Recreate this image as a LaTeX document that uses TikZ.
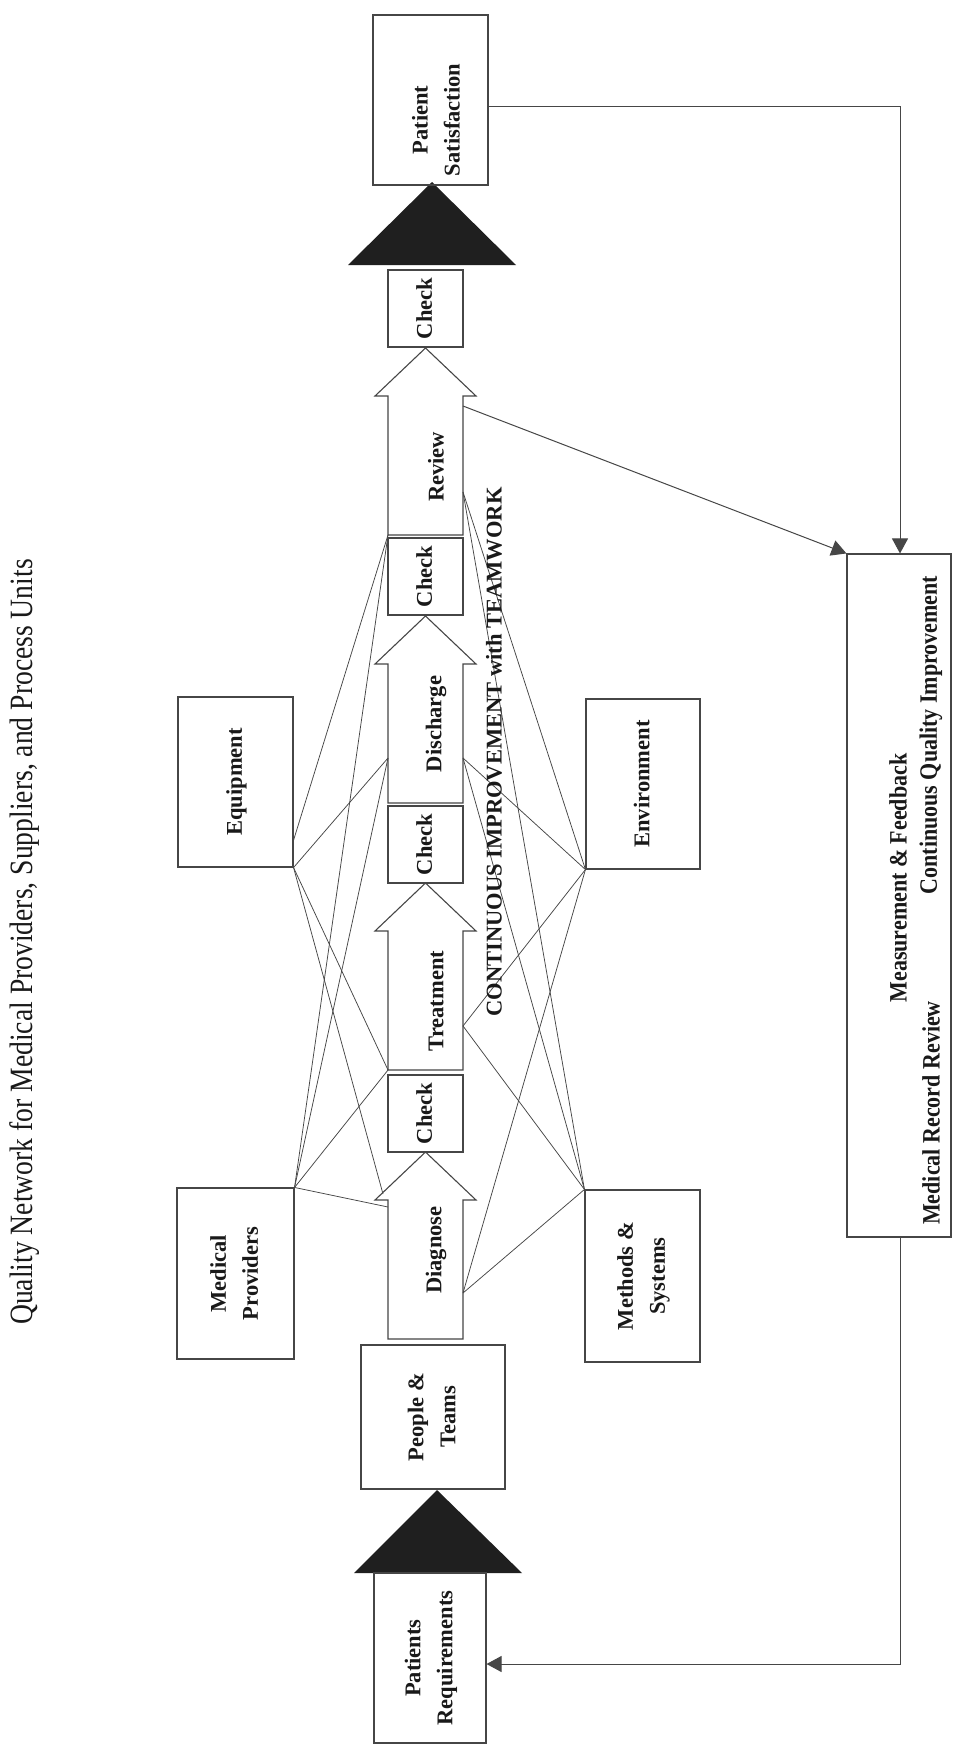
\documentclass[tikz,border=0pt]{standalone}
\usepackage{fontspec}
\setmainfont{Liberation Serif}
\newfontfamily\condfont[FakeStretch=0.85]{Liberation Serif}
\newfontfamily\condbfont[FakeStretch=0.88]{Liberation Serif}
\usepackage{graphicx}
\usetikzlibrary{arrows.meta}
\definecolor{linec}{RGB}{70,70,70}
\definecolor{txt}{RGB}{25,25,25}
\newcommand{\rtxt}[1]{\rotatebox{90}{\begin{tabular}{@{}c@{}}#1\end{tabular}}}
\newcommand{\procarrow}[1]{%
  \draw[parrow] (425.5,#1) -- (476,#1+48) -- (463,#1+48) -- (463,#1+187) -- (388,#1+187) -- (388,#1+48) -- (375,#1+48) -- cycle;}
\begin{document}
\begin{tikzpicture}[x=1pt,y=-1pt,
  box/.style={draw=linec, line width=1.1pt, inner sep=0pt, text=txt, font=\bfseries\fontsize{22.5}{32}\selectfont},
  lbl/.style={rotate=90, inner sep=0pt, text=txt, font=\bfseries\fontsize{22.5}{27}\selectfont},
  mlbl/.style={rotate=90, inner sep=0pt, text=txt, font=\condbfont\bfseries\fontsize{25}{28}\selectfont},
  net/.style={draw=linec, line width=0.75pt},
  conn/.style={draw=linec, line width=1pt},
  tip/.style={-{Triangle[width=16pt,length=15pt]}},
  parrow/.style={draw=linec, line width=1.1pt, fill=white},
]
\useasboundingbox (0,0) rectangle (965,1750);
\fill[white] (0,0) rectangle (965,1750);

% title
\node[rotate=90, inner sep=0pt, text=txt, font=\condfont\fontsize{32.5}{34}\selectfont] (title) at (25,942)
  {Quality Network for Medical Providers, Suppliers, and Process Units};

% triangles
\fill[black!88] (432,182) -- (516,265) -- (348,265) -- cycle;
\fill[black!88] (437,1490) -- (522,1573) -- (354,1573) -- cycle;

% end boxes
\node[box, minimum width=115pt, minimum height=170pt] (ps) at (430.5,100) {};
\node[rotate=90, inner sep=0pt, text=txt, align=center, font=\bfseries\fontsize{22.5}{32}\selectfont] (pstxt) at (436,120) {Patient\\Satisfaction};
\node[box, minimum width=112pt, minimum height=170pt] (pr) at (430,1658) {\rtxt{Patients\\Requirements}};
\node[box, minimum width=144pt, minimum height=144pt] (pt) at (433,1417) {\rtxt{People \&\\Teams}};

% resource boxes
\node[box, minimum width=115pt, minimum height=170pt] (eq) at (235.5,782) {\rtxt{Equipment}};
\node[box, minimum width=117pt, minimum height=171pt] (mp) at (235.5,1273.5) {\rtxt{Medical\\Providers}};
\node[box, minimum width=114pt, minimum height=170pt] (env) at (643,784) {\rtxt{Environment}};
\node[box, minimum width=115pt, minimum height=172pt] (ms) at (642.5,1276) {\rtxt{Methods \&\\Systems}};

% measurement box
\node[box, minimum width=104pt, minimum height=683pt] (mf) at (899,895.5) {};
\node[mlbl] (mft1) at (898,878) {Measurement \& Feedback};
\node[mlbl] (mft2) at (931,735) {Continuous Quality Improvement};
\node[mlbl] (mft3) at (931,1113) {Medical Record Review};

% process arrows
\procarrow{348}
\procarrow{616}
\procarrow{883}
\procarrow{1152}
\node[lbl] (rev) at (436,467) {Review};
\node[lbl] (dis) at (436,724) {Discharge};
\node[lbl] (tre) at (436,1001) {Treatment};
\node[lbl] (dia) at (436,1250) {Diagnose};

% check boxes
\node[box, minimum width=75pt, minimum height=77pt] (ck1) at (425.5,308.5) {\rtxt{Check}};
\node[box, minimum width=75pt, minimum height=77pt] (ck2) at (425.5,576.5) {\rtxt{Check}};
\node[box, minimum width=75pt, minimum height=77pt] (ck3) at (425.5,844.5) {\rtxt{Check}};
\node[box, minimum width=75pt, minimum height=77pt] (ck4) at (425.5,1113.5) {\rtxt{Check}};

% attachment points on process arrows
\coordinate (revo) at (463,406);
\coordinate (revl) at (388,535);
\coordinate (revr) at (463,492);
\coordinate (disl) at (388,758);
\coordinate (disr) at (463,758);
\coordinate (trel) at (388,1070);
\coordinate (trer) at (463,1026);
\coordinate (dial) at (388,1207);
\coordinate (diah) at (383,1194);
\coordinate (diar) at (463,1293);
\coordinate (eqe) at (293,842);

% network lines
\draw[net] (eqe) -- (revl);
\draw[net] (eq.south east) -- (disl);
\draw[net] (eq.south east) -- (trel);
\draw[net] (eq.south east) -- (diah);
\draw[net] (mp.north east) -- (revl);
\draw[net] (mp.north east) -- (disl);
\draw[net] (mp.north east) -- (trel);
\draw[net] (mp.north east) -- (dial);
\draw[net] (env.south west) -- (revr);
\draw[net] (env.south west) -- (disr);
\draw[net] (env.south west) -- (trer);
\draw[net] (env.south west) -- (diar);
\draw[net] (ms.north west) -- (revr);
\draw[net] (ms.north west) -- (disr);
\draw[net] (ms.north west) -- (trer);
\draw[net] (ms.north west) -- (diar);

% theme text
\node[lbl] (cit) at (494,752) {CONTINUOUS IMPROVEMENT with TEAMWORK};

% feedback connectors
\draw[conn, tip] ([yshift=-7pt]ps.east) -| ([xshift=1pt]mf.north);
\draw[conn, tip] (revo) -- (mf.north west);
\draw[conn, tip] ([xshift=1pt]mf.south) |- ([yshift=-6pt]pr.east);
\end{tikzpicture}
\end{document}
